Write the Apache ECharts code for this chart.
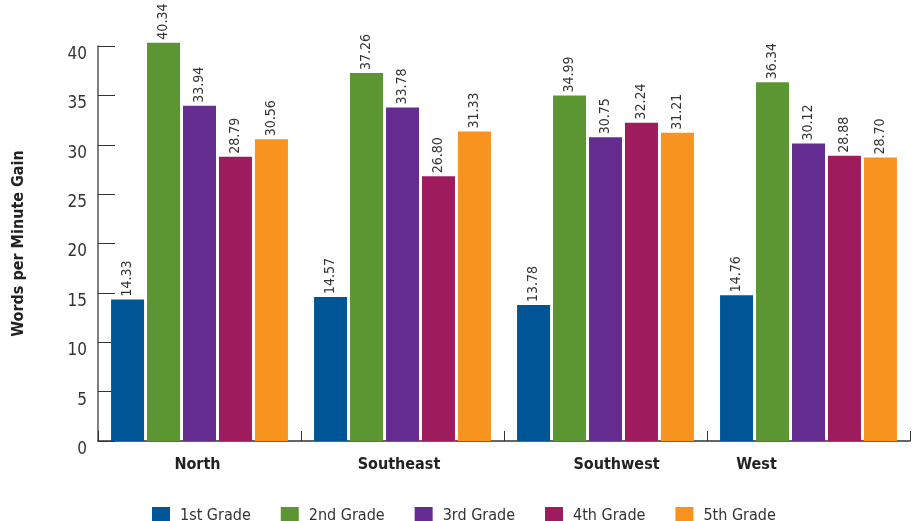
<!DOCTYPE html>
<html>
<head>
<meta charset="utf-8">
<script src="https://cdn.jsdelivr.net/npm/echarts@6/dist/echarts.min.js"></script>
<style>html,body{margin:0;padding:0;background:#fff;}#c{width:918px;height:521px;}</style>
</head>
<body>
<div id="c"></div>
<script>
var regions = ['North', 'Southeast', 'Southwest', 'West'];
var grade1 = [14.33, 14.57, 13.78, 14.76];
var grade2 = [40.34, 37.26, 34.99, 36.34];
var grade3 = [33.94, 33.78, 30.75, 30.12];
var grade4 = [28.79, 26.80, 32.24, 28.88];
var grade5 = [30.56, 31.33, 31.21, 28.70];
var seriesNames = ['1st Grade', '2nd Grade', '3rd Grade', '4th Grade', '5th Grade'];
var yTicks = [0, 5, 10, 15, 20, 25, 30, 35, 40];

var FONT = "'Liberation Sans Narrow', 'DejaVu Sans Condensed', 'Roboto Condensed', sans-serif";
var colors = ['#005596', '#5c9632', '#652d90', '#9e1c5d', '#f7931e'];
var allData = [grade1, grade2, grade3, grade4, grade5];

var chart = echarts.init(document.getElementById('c'));
var series = allData.map(function (d, i) {
  return {
    name: seriesNames[i],
    type: 'bar',
    data: d,
    barWidth: 33,
    barGap: '9%',
    clip: false,
    itemStyle: { color: colors[i] },
    label: {
      show: true,
      position: 'top',
      rotate: 90,
      align: 'left',
      verticalAlign: 'middle',
      distance: 3,
      fontFamily: FONT,
      fontSize: 14,
      color: '#333',
      formatter: function (p) { return p.value.toFixed(2); }
    }
  };
});

var catStyle = { fontFamily: FONT, fontSize: 16, fontWeight: 'bold', color: '#222' };
function rs(pad) { return Object.assign({}, catStyle, { padding: pad }); }

chart.setOption({
  animation: false,
  color: colors,
  grid: { left: 98, right: 8, top: 46, bottom: 80, containLabel: false },
  legend: {
    data: seriesNames,
    left: 147,
    top: 502,
    itemWidth: 18,
    itemHeight: 18,
    itemGap: 30,
    icon: 'rect',
    textStyle: { fontFamily: FONT, fontSize: 16, color: '#333', padding: [0, 0, 0, 5] }
  },
  xAxis: {
    type: 'category',
    data: regions,
    axisLine: { lineStyle: { color: '#333', width: 1.5 } },
    axisTick: { show: true, inside: true, length: 10, lineStyle: { color: '#333' } },
    axisLabel: {
      margin: 16,
      fontFamily: FONT,
      fontSize: 16,
      fontWeight: 'bold',
      color: '#222',
      formatter: function (v, i) { return '{c' + i + '|' + v + '}'; },
      rich: {
        c0: rs([0, 4, 0, 0]),
        c1: rs([0, 7, 0, 0]),
        c2: rs([0, 0, 0, 22]),
        c3: rs([0, 104, 0, 0])
      }
    }
  },
  yAxis: {
    type: 'value',
    min: yTicks[0],
    max: yTicks[yTicks.length - 1],
    interval: 5,
    name: 'Words per Minute Gain',
    nameLocation: 'middle',
    nameRotate: 90,
    nameGap: 71,
    nameTextStyle: { fontFamily: FONT, fontSize: 16, fontWeight: 'bold', color: '#222' },
    axisLine: { show: true, lineStyle: { color: '#555', width: 1.5 } },
    axisTick: { show: true, inside: true, length: 17, lineStyle: { color: '#333' } },
    splitLine: { show: false },
    axisLabel: {
      margin: 11,
      fontFamily: FONT,
      fontSize: 17,
      color: '#333',
      verticalAlign: 'top'
    }
  },
  series: series
});
</script>
</body>
</html>
